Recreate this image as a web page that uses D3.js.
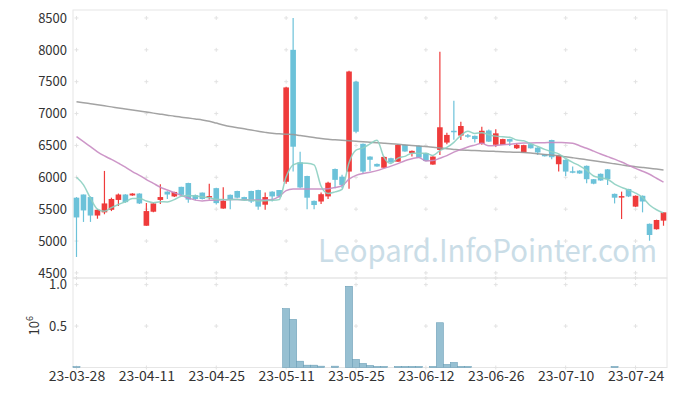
<!DOCTYPE html>
<html>
<head>
<meta charset="utf-8">
<script src="https://cdn.jsdelivr.net/npm/d3@7"></script>
<style>
  body { margin: 0; background: #fff; }
  text { font-family: "Noto Sans CJK KR", "Noto Sans", sans-serif; }
</style>
</head>
<body>
<div id="chart"></div>
<script>
// dates (trading days)
const dates = ["23-03-28","23-03-29","23-03-30","23-03-31","23-04-03","23-04-04","23-04-05","23-04-06","23-04-07","23-04-10",
  "23-04-11","23-04-12","23-04-13","23-04-14","23-04-17","23-04-18","23-04-19","23-04-20","23-04-21","23-04-24",
  "23-04-25","23-04-26","23-04-27","23-04-28","23-05-02","23-05-03","23-05-04","23-05-08","23-05-09","23-05-10",
  "23-05-11","23-05-12","23-05-15","23-05-16","23-05-17","23-05-18","23-05-19","23-05-22","23-05-23","23-05-24",
  "23-05-25","23-05-26","23-05-30","23-05-31","23-06-01","23-06-02","23-06-05","23-06-07","23-06-08","23-06-09",
  "23-06-12","23-06-13","23-06-14","23-06-15","23-06-16","23-06-19","23-06-20","23-06-21","23-06-22","23-06-23",
  "23-06-26","23-06-27","23-06-28","23-06-29","23-06-30","23-07-03","23-07-04","23-07-05","23-07-06","23-07-07",
  "23-07-10","23-07-11","23-07-12","23-07-13","23-07-14","23-07-17","23-07-18","23-07-19","23-07-20","23-07-21",
  "23-07-24","23-07-25","23-07-26","23-07-27","23-07-28"]

const open = [5680,5730,5690,5400,5450,5490,5645,5730,5715,5745,
  5240,5460,5645,5775,5700,5850,5910,5720,5760,5690,
  5830,5510,5725,5785,5690,5785,5800,5570,5775,5800,
  5930,8000,6235,6020,5630,5620,5700,6130,6010,6090,
  7500,6525,6325,6210,6150,6300,6245,6510,6380,6495,
  6380,6200,6430,6545,6730,6655,6660,6650,6525,6735,
  6510,6510,6600,6455,6385,6520,6465,6360,6585,6205,
  6275,6095,6105,6180,5970,6055,6125,5740,5690,5815,
  5540,5710,5270,5185,5320]
const high = [5690,5730,5700,5500,6100,5680,5745,5735,5750,5750,
  5595,5600,5890,5780,5775,5850,5915,5730,5760,5900,
  5835,5845,5730,5790,5695,5790,5805,5760,5780,5800,
  7420,8500,6400,6025,5635,5760,5930,6140,6040,7670,
  7510,6530,6330,6215,6325,6305,6515,6515,6420,6500,
  6385,6330,7970,6700,7200,6870,6680,6655,6795,6750,
  6755,6605,6605,6530,6510,6525,6470,6365,6590,6355,
  6280,6170,6110,6185,5975,6060,6130,5745,5775,5820,
  5715,5715,5275,5335,5455]
const low = [4750,5300,5300,5350,5420,5470,5550,5600,5710,5580,
  5240,5450,5580,5660,5690,5720,5600,5640,5650,5650,
  5575,5505,5500,5670,5635,5595,5490,5490,5620,5680,
  5900,6090,5830,5500,5500,5580,5660,5830,5830,5820,
  6690,6050,6100,6165,6145,6220,6240,6400,6325,6305,
  6250,6195,6350,6520,6590,6585,6620,6545,6510,6555,
  6480,6505,6490,6445,6380,6450,6350,6325,6285,6090,
  6020,6065,6055,5905,5890,5945,5880,5590,5345,5690,
  5535,5450,5005,5180,5240]
const close = [5370,5480,5400,5490,5590,5660,5730,5610,5745,5590,
  5470,5590,5690,5730,5770,5725,5650,5660,5660,5705,
  5595,5630,5655,5680,5640,5620,5540,5690,5700,5700,
  7410,6480,5840,5680,5565,5735,5915,5960,5880,7660,
  6715,6090,6275,6170,6320,6235,6510,6405,6415,6310,
  6255,6325,6785,6665,6715,6805,6650,6600,6730,6560,
  6690,6600,6560,6510,6505,6455,6390,6330,6315,6350,
  6090,6085,6060,5970,5900,5950,5970,5680,5705,5700,
  5710,5620,5095,5330,5450]

// volume (x 10^6)
const volume = [0.01,0,0,0,0,0,0,0,0,0,
  0,0,0,0,0,0,0,0,0,0,
  0,0,0,0,0,0,0,0,0,0,
  0.71,0.58,0.076,0.028,0.028,0.016,0,0.016,0,0.98,
  0.097,0.048,0.024,0.012,0.012,0,0.012,0.012,0.012,0.012,
  0,0.012,0.54,0.036,0.06,0.012,0.012,0,0,0,
  0,0,0,0,0,0,0,0,0,0,
  0,0,0,0,0,0,0,0.012,0,0,
  0,0,0,0,0]

const ma5Head = [6000,5880,5672,5500]
const ma20 = [6638,6560,6480,6400,6335,6280,6221,6160,6090,6030,
  5965,5905,5844,5800,5758,5715,5675,5642,5630,5640,
  5645,5648,5650,5650,5648,5645,5642,5645,5650,5700,
  5790,5815,5818,5818,5818,5818,5822,5840,5870,5970,
  6030,6060,6080,6105,6140,6175,6215,6260,6290,6312,
  6255,6262,6300,6340,6395,6435,6475,6505,6533,6495,
  6500,6510,6520,6530,6537,6540,6543,6544,6545,6545,
  6544,6535,6495,6456,6410,6365,6325,6285,6240,6190,
  6140,6095,6048,5985,5923]
const ma120 = [7187,7170,7154,7138,7121,7105,7088,7072,7056,7040,
  7024,7007,6991,6975,6958,6944,6930,6915,6900,6880,
  6851,6822,6797,6779,6760,6742,6723,6705,6690,6683,
  6676,6670,6655,6640,6625,6609,6596,6588,6580,6572,
  6564,6557,6549,6541,6534,6526,6517,6508,6500,6491,
  6482,6471,6460,6449,6438,6428,6423,6419,6414,6410,
  6406,6401,6397,6393,6389,6381,6370,6359,6348,6337,
  6322,6307,6292,6276,6260,6244,6227,6211,6195,6179,
  6167,6154,6141,6129,6116]

const priceTicks = [4500,5000,5500,6000,6500,7000,7500,8000,8500]
const volTicks = [0.5,1.0]
const dateTicks = [0,10,20,30,40,50,60,70,80]

const ma5 = close.map((c, i) => i < 4 ? ma5Head[i] : d3.mean(close.slice(i - 4, i + 1)))

// dimensions
const W = 677, H = 396
const left = 73, right = 667
const pTop = 10, pBottom = 278
const vTop = 278, vBottom = 367.5

const svg = d3.select("#chart").append("svg")
    .attr("width", W)
    .attr("height", H)

const x = d3.scaleLinear().domain([-0.5, 84.5]).range([left, right])
const y = d3.scaleLinear().domain([4420, 8625]).range([pBottom, pTop])
const yv = d3.scaleLinear().domain([0, 1.08]).range([vBottom, vTop])

// cadres
svg.append("rect")
    .attr("x", left).attr("y", pTop)
    .attr("width", right - left).attr("height", pBottom - pTop)
    .attr("fill", "none").attr("stroke", "#e6e6e6")
svg.append("rect")
    .attr("x", left).attr("y", vTop)
    .attr("width", right - left).attr("height", vBottom - vTop)
    .attr("fill", "none").attr("stroke", "#e6e6e6")

// petites croix de grille
function crosses(ys) {
    dateTicks.forEach(t => {
        ys.forEach(yy => {
            svg.append("path")
                .attr("d", `M${x(t) - 2},${yy}h4M${x(t)},${yy - 2}v4`)
                .attr("stroke", "#e2e2e2")
                .attr("stroke-width", 1)
        })
    })
}
crosses(priceTicks.map(p => y(p)).concat([pBottom]))
crosses(volTicks.map(v => yv(v)).concat([vBottom]))

// filigrane
svg.append("text")
    .attr("x", 318)
    .attr("y", 262)
    .attr("textLength", 339)
    .attr("lengthAdjust", "spacingAndGlyphs")
    .style("font-size", "31px")
    .style("fill", "#cadde7")
    .text("Leopard.InfoPointer.com")

// axes
const yAxis = d3.axisLeft(y).tickValues(priceTicks).tickSize(0).tickPadding(6)
    .tickFormat(d3.format("d"))
svg.append("g")
    .attr("class", "axe-y")
    .attr("transform", `translate(${left},0)`)
    .call(yAxis)
    .call(g => g.select(".domain").remove())

const vAxis = d3.axisLeft(yv).tickValues(volTicks).tickSize(0).tickPadding(6)
    .tickFormat(d3.format(".1f"))
svg.append("g")
    .attr("class", "axe-y")
    .attr("transform", `translate(${left},0)`)
    .call(vAxis)
    .call(g => g.select(".domain").remove())

const xAxis = d3.axisBottom(x).tickValues(dateTicks).tickSize(0).tickPadding(4)
    .tickFormat(i => dates[i])
svg.append("g")
    .attr("class", "axe-x")
    .attr("transform", `translate(0,${vBottom})`)
    .call(xAxis)
    .call(g => g.select(".domain").remove())

svg.selectAll(".tick text")
    .style("font-family", "'Noto Sans CJK KR', 'Noto Sans', sans-serif")
    .style("font-size", "13px")
    .style("fill", "#333")
svg.selectAll(".axe-x .tick text")
    .style("font-size", "14px")

// 10^6
const lab = svg.append("text")
    .attr("transform", `translate(39,${(vTop + vBottom) / 2 + 3}) rotate(-90)`)
    .attr("text-anchor", "middle")
    .style("font-size", "13px")
    .style("fill", "#333")
lab.append("tspan").text("10")
lab.append("tspan").attr("dy", -6).style("font-size", "9px").text("6")

// volume
svg.append("g").selectAll("rect")
    .data(volume)
    .join("rect")
    .attr("x", (d, i) => x(i) - 3.5)
    .attr("width", 7)
    .attr("y", d => yv(d))
    .attr("height", d => vBottom - yv(d))
    .attr("fill", "#97c0d2")
    .attr("stroke", "#6b9fb7")
    .attr("stroke-width", d => d > 0 ? 0.6 : 0)

// chandeliers
const up = "#ef3b3b", down = "#6cc2d9"
const candles = svg.append("g")
dates.forEach((d, i) => {
    const col = close[i] >= open[i] ? up : down
    candles.append("line")
        .attr("x1", x(i)).attr("x2", x(i))
        .attr("y1", y(high[i])).attr("y2", y(low[i]))
        .attr("stroke", col).attr("stroke-width", 1.2)
    const top = y(Math.max(open[i], close[i]))
    const bot = y(Math.min(open[i], close[i]))
    candles.append("rect")
        .attr("x", x(i) - 2.8)
        .attr("width", 5.6)
        .attr("y", top)
        .attr("height", Math.max(1.5, bot - top))
        .attr("fill", col)
})

// lignes des moyennes
const line = d3.line()
    .x((d, i) => x(i))
    .y(d => y(d))
    .curve(d3.curveMonotoneX)

svg.append("path").datum(ma120)
    .attr("d", line).attr("fill", "none")
    .attr("stroke", "#999").attr("stroke-width", 1.5).attr("opacity", 0.9)
svg.append("path").datum(ma20)
    .attr("d", line).attr("fill", "none")
    .attr("stroke", "#c88bc2").attr("stroke-width", 1.5).attr("opacity", 0.9)
svg.append("path").datum(ma5)
    .attr("d", line).attr("fill", "none")
    .attr("stroke", "#8ccfc1").attr("stroke-width", 1.5).attr("opacity", 0.9)
</script>
</body>
</html>
